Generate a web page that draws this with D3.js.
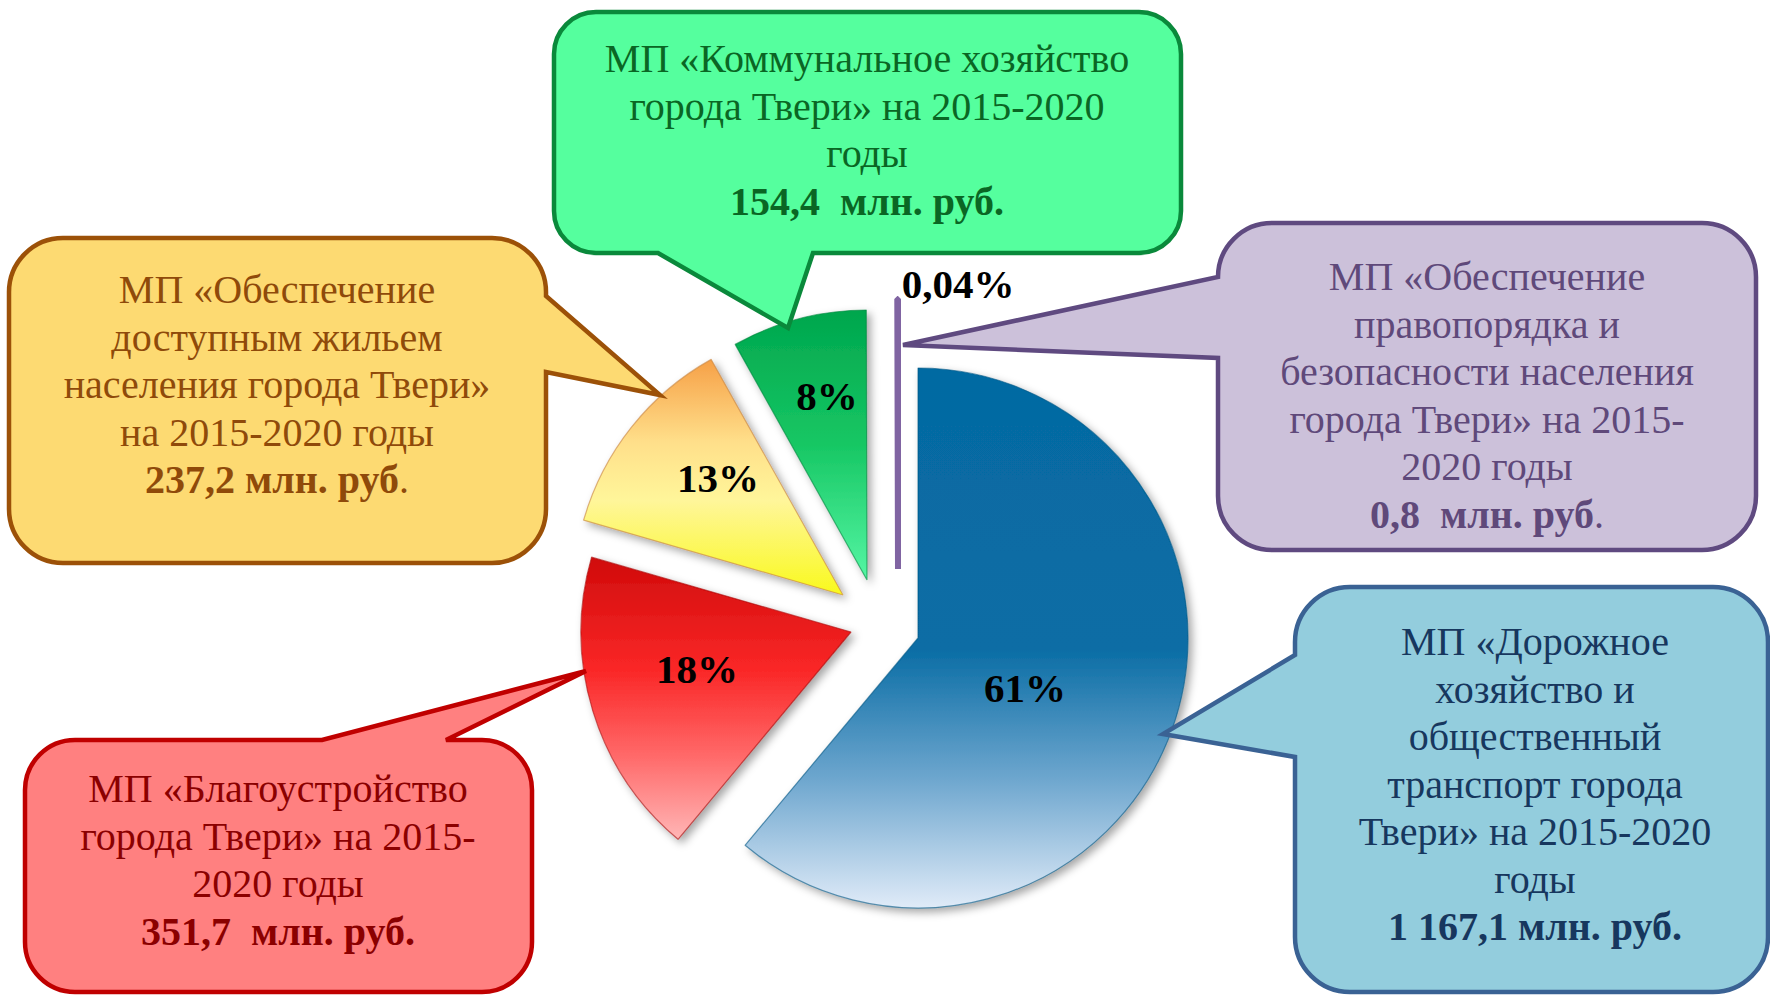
<!DOCTYPE html>
<html>

<head>
	<title>Муниципальные программы города Твери</title>
	<meta charset="utf-8" />
	<script src="https://cdnjs.cloudflare.com/ajax/libs/d3/7.8.5/d3.min.js" charset="utf-8"></script>
</head>

<style>
	body {
		margin: 0;
		background: #fff;
	}

	svg {
		display: block;
	}

	.box-text {
		font-family: "Liberation Serif", "Times New Roman", serif;
		font-size: 40px;
		text-anchor: middle;
		white-space: pre;
	}

	.pct {
		font-family: "Liberation Serif", "Times New Roman", serif;
		font-size: 41px;
		font-weight: bold;
		text-anchor: middle;
		fill: #000;
		white-space: pre;
	}
</style>

<body>
	<script type="text/javascript">
		// Data (million roubles), in pie order clockwise from 12 o'clock.
		const programs = [
			"Дорожное хозяйство и общественный транспорт",
			"Благоустройство",
			"Обеспечение доступным жильем",
			"Коммунальное хозяйство",
			"Обеспечение правопорядка и безопасности"
		];
		const values = [1167.1, 351.7, 237.2, 154.4, 0.8];
		const valueLabels = ["1 167,1", "351,7 ", "237,2", "154,4 ", "0,8 "];
		const percentLabels = ["61%", "18%", "13%", "8%", "0,04%"];
		// Callout texts, line by line as in the original.
		const boxLines = [
			["МП «Дорожное", "хозяйство и", "общественный", "транспорт города", "Твери» на 2015-2020", "годы"],
			["МП «Благоустройство", "города Твери» на 2015-", "2020 годы"],
			["МП «Обеспечение", "доступным жильем", "населения города Твери»", "на 2015-2020 годы"],
			["МП «Коммунальное хозяйство", "города Твери» на 2015-2020", "годы"],
			["МП «Обеспечение", "правопорядка и", "безопасности населения", "города Твери» на 2015-", "2020 годы"]
		];
		// whether the final dot is part of the bold value line
		const dotBold = [true, true, false, true, false];

		const w = 1770;
		const h = 995;
		const R = 270;
		const pieCenter = [880, 610];
		// each slice is pulled out on its own
		const explode = [[38, 28], [-29, 22], [-37, -15], [-13, -30], [18, -41]];

		const sliceGrads = [
			[[0, "#056aa2"], [0.52, "#0a6da5"], [0.76, "#6da6ce"], [1, "#e0ebf8"]],
			[[0, "#d00b0b"], [0.4, "#fa2727"], [0.7, "#ff6868"], [1, "#ffb6b6"]],
			[[0, "#f6a047"], [0.35, "#ffdf8a"], [0.6, "#fff69a"], [1, "#f9f91c"]],
			[[0, "#00a64d"], [0.5, "#17c764"], [1, "#55f6a4"]],
			[[0, "#8064a2"], [1, "#8064a2"]]
		];

		// Callout boxes: rectangle, corner radius, tail side, tail base (a, b) and tip.
		const boxes = [
			{ x: 1295, y: 587, w: 473, h: 405, r: 55, side: "left", a: 655, b: 757, tip: [1163, 734],
				fill: "#93cddd", stroke: "#3a6294", color: "#17375e", tx: 1535, ty: 655 },
			{ x: 25, y: 740, w: 507, h: 252, r: 50, side: "top", a: 322, b: 446, tip: [586, 671],
				fill: "#ff8080", stroke: "#c00000", color: "#8b0000", tx: 278, ty: 802 },
			{ x: 9, y: 238, w: 537, h: 325, r: 54, side: "right", a: 296, b: 372, tip: [660, 395],
				fill: "#fdda72", stroke: "#9c5108", color: "#8f4a0a", tx: 277, ty: 303 },
			{ x: 554, y: 12, w: 627, h: 241, r: 42, side: "bottom", a: 658, b: 813, tip: [788, 328],
				fill: "#55ff9e", stroke: "#0a893b", color: "#0a6624", tx: 867, ty: 72 },
			{ x: 1218, y: 223, w: 538, h: 327, r: 54, side: "left", a: 277, b: 358, tip: [903, 345],
				fill: "#ccc1da", stroke: "#5f4a80", color: "#5f497a", tx: 1487, ty: 290 }
		];
		const lineStep = 47.5;

		const svg = d3.select("body")
			.append("svg")
			.attr("width", w)
			.attr("height", h);

		const defs = svg.append("defs");

		// soft shadow under the slices
		const shadow = defs.append("filter")
			.attr("id", "shadow")
			.attr("x", "-20%").attr("y", "-20%")
			.attr("width", "140%").attr("height", "140%");
		shadow.append("feDropShadow")
			.attr("dx", 4).attr("dy", 4)
			.attr("stdDeviation", 4)
			.attr("flood-color", "#000")
			.attr("flood-opacity", 0.35);

		sliceGrads.forEach((stops, i) => {
			const g = defs.append("linearGradient")
				.attr("id", "grad" + i)
				.attr("x1", 0).attr("y1", 0)
				.attr("x2", 0).attr("y2", 1);
			stops.forEach(s => {
				g.append("stop").attr("offset", s[0]).attr("stop-color", s[1]);
			});
		});

		// Pie slices.
		const pie = d3.pie().sort(null).value(d => d);
		const arc = d3.arc().innerRadius(0).outerRadius(R);

		const slices = svg.append("g")
			.selectAll("g")
			.data(pie(values))
			.enter()
			.append("g")
			.attr("transform", (d, i) => "translate(" + (pieCenter[0] + explode[i][0]) + "," + (pieCenter[1] + explode[i][1]) + ")");

		slices.append("path")
			.attr("d", arc)
			.attr("fill", (d, i) => "url(#grad" + i + ")")
			.attr("stroke", (d, i) => i == 4 ? "#8064a2" : d3.color(sliceGrads[i][0][1]).darker(0.6))
			.attr("stroke-width", (d, i) => i == 4 ? 6 : 1.2)
			.attr("stroke-opacity", (d, i) => i == 4 ? 1 : 0.6)
			.attr("stroke-linejoin", "bevel")
			.attr("filter", (d, i) => i == 4 ? null : "url(#shadow)");

		// Callouts: rounded rectangle with a wedge tail.
		function calloutPath(b) {
			const x0 = b.x, y0 = b.y, x1 = b.x + b.w, y1 = b.y + b.h, r = b.r;
			const p = d3.path();
			p.moveTo(x0 + r, y0);
			if (b.side == "top") { p.lineTo(b.a, y0); p.lineTo(b.tip[0], b.tip[1]); p.lineTo(b.b, y0); }
			p.lineTo(x1 - r, y0);
			p.arcTo(x1, y0, x1, y0 + r, r);
			if (b.side == "right") { p.lineTo(x1, b.a); p.lineTo(b.tip[0], b.tip[1]); p.lineTo(x1, b.b); }
			p.lineTo(x1, y1 - r);
			p.arcTo(x1, y1, x1 - r, y1, r);
			if (b.side == "bottom") { p.lineTo(b.b, y1); p.lineTo(b.tip[0], b.tip[1]); p.lineTo(b.a, y1); }
			p.lineTo(x0 + r, y1);
			p.arcTo(x0, y1, x0, y1 - r, r);
			if (b.side == "left") { p.lineTo(x0, b.b); p.lineTo(b.tip[0], b.tip[1]); p.lineTo(x0, b.a); }
			p.lineTo(x0, y0 + r);
			p.arcTo(x0, y0, x0 + r, y0, r);
			p.closePath();
			return p.toString();
		}

		const callouts = svg.append("g")
			.selectAll("g")
			.data(boxes)
			.enter()
			.append("g");

		callouts.append("path")
			.attr("d", calloutPath)
			.attr("fill", d => d.fill)
			.attr("stroke", d => d.stroke)
			.attr("stroke-width", 4.5)
			.attr("stroke-linejoin", "miter");

		callouts.each(function(b, i) {
			const text = d3.select(this).append("text")
				.attr("class", "box-text")
				.attr("fill", b.color);
			boxLines[i].forEach((line, j) => {
				text.append("tspan")
					.attr("x", b.tx)
					.attr("y", b.ty + j * lineStep)
					.text(line);
			});
			text.append("tspan")
				.attr("x", b.tx)
				.attr("y", b.ty + boxLines[i].length * lineStep)
				.attr("font-weight", "bold")
				.text(valueLabels[i] + " млн. руб" + (dotBold[i] ? "." : ""));
			if (!dotBold[i]) {
				text.append("tspan").text(".");
			}
		});

		// Percent labels.
		const pctPos = [[1025, 702], [697, 683], [718, 492], [827, 410], [958, 298]];
		svg.append("g")
			.selectAll("text")
			.data(percentLabels)
			.enter()
			.append("text")
			.attr("class", "pct")
			.attr("x", (d, i) => pctPos[i][0])
			.attr("y", (d, i) => pctPos[i][1])
			.text(d => d);
	</script>
</body>

</html>
